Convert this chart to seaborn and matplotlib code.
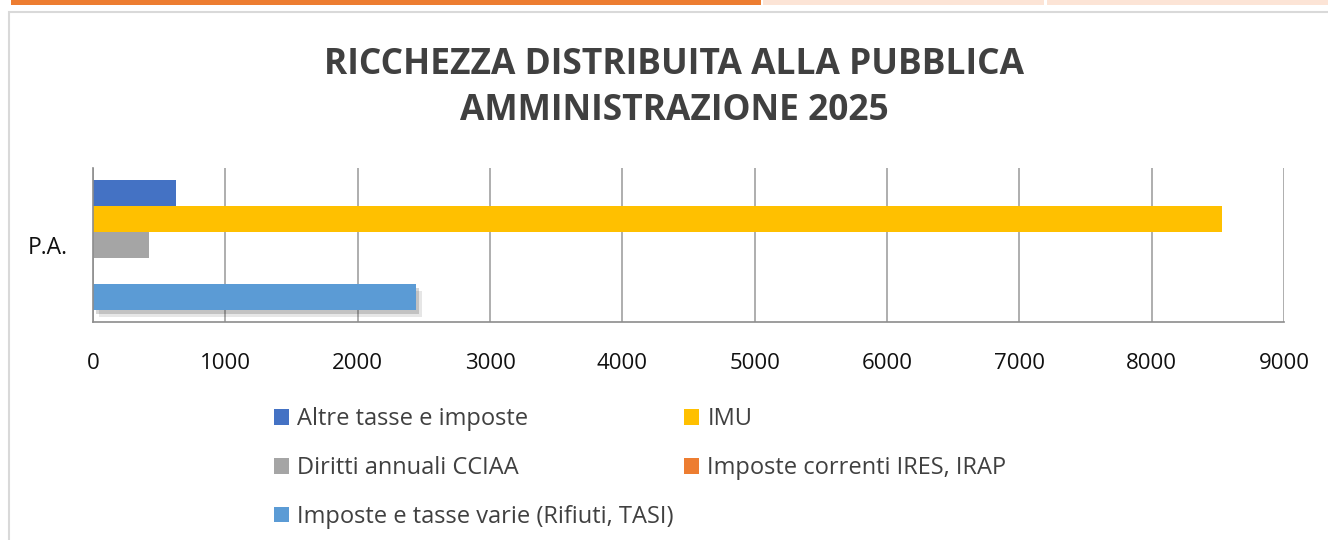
import pandas as pd
import numpy as np
import matplotlib
matplotlib.use("Agg")
import matplotlib.pyplot as plt
import matplotlib.patheffects as pe
from matplotlib.patches import Rectangle
import seaborn as sns

# Dati
categorie = ["P.A."]
serie = [
    "Altre tasse e imposte",
    "IMU",
    "Diritti annuali CCIAA",
    "Imposte correnti IRES, IRAP",
    "Imposte e tasse varie (Rifiuti, TASI)",
]
valori = [627, 8530, 423, 0, 2441]
colori = ["#4472C4", "#FFC000", "#A5A5A5", "#ED7D31", "#5B9BD5"]
tick_x = [0, 1000, 2000, 3000, 4000, 5000, 6000, 7000, 8000, 9000]

df = pd.DataFrame({"cat": categorie * len(serie), "serie": serie, "valore": valori})

sns.set_style("white")
plt.rcParams["font.family"] = ["Open Sans", "DejaVu Sans"]

fig = plt.figure(figsize=(13.28, 5.4), dpi=100)
ax = fig.add_axes([93 / 1328, 1 - 322 / 540, (1284 - 93) / 1328, (322 - 168) / 540])

sns.barplot(
    data=df, x="valore", y="cat", hue="serie", hue_order=serie,
    palette=colori, orient="h", width=0.845, saturation=1, ax=ax, legend=True,
    linewidth=0,
)

# ombra sulla barra "Imposte e tasse varie"
for p in ax.patches:
    if np.isclose(p.get_width(), valori[4]):
        p.set_path_effects([
            pe.SimplePatchShadow(offset=(4, -5), alpha=0.12, shadow_rgbFace="#333333"),
            pe.SimplePatchShadow(offset=(2.5, -3), alpha=0.2, shadow_rgbFace="#333333"),
            pe.Normal(),
        ])

ax.set_xlim(0, 9000)
ax.set_ylim(0.5, -0.5)
ax.set_xticks(tick_x)
ax.set_xticklabels([str(t) for t in tick_x], fontsize=16, color="#111111")
ax.set_yticks([-0.5, 0.5], minor=True)
ax.set_yticks([0])
ax.set_yticklabels(categorie, fontsize=16.5, color="#111111")
ax.tick_params(axis="y", which="major", length=0, pad=18)
ax.tick_params(axis="y", which="minor", length=8, color="#8c8c8c", width=1.2)
ax.tick_params(axis="x", length=8, color="#8c8c8c", width=1.2, pad=14)
ax.grid(axis="x", color="#999999", linewidth=1.1)
ax.set_axisbelow(True)
ax.set_xlabel("")
ax.set_ylabel("")
for s in ["top", "right"]:
    ax.spines[s].set_visible(False)
for s in ["left", "bottom"]:
    ax.spines[s].set_color("#8c8c8c")
    ax.spines[s].set_linewidth(1.2)

# legenda a due colonne (ordine per righe)
handles, labels = ax.get_legend_handles_labels()
ordine = [0, 2, 4, 1, 3]
ax.legend(
    [handles[i] for i in ordine], [labels[i] for i in ordine],
    ncol=2, frameon=False, fontsize=17, labelcolor="#404040",
    loc="upper left", bbox_to_anchor=(265 / 1328, 1 - 398 / 540),
    bbox_transform=fig.transFigure, handlelength=0.62, handleheight=0.62,
    handletextpad=0.35, columnspacing=0.45, labelspacing=1.05, borderaxespad=0,
)

fig.suptitle(
    "RICCHEZZA DISTRIBUITA ALLA PUBBLICA\nAMMINISTRAZIONE 2025",
    x=674 / 1328, y=1 - 47 / 540, fontsize=25.5, fontweight="bold",
    color="#404040", linespacing=1.36, va="top",
)

# cornice e striscia superiore
fig.patches.append(Rectangle((9 / 1328, -0.1), 1.2, 1.078, transform=fig.transFigure,
                             fill=False, edgecolor="#d9d9d9", linewidth=1.5))
fig.patches.append(Rectangle((11 / 1328, 1 - 5 / 540), 750 / 1328, 5 / 540,
                             transform=fig.transFigure, color="#ED7D31", linewidth=0))
fig.patches.append(Rectangle((763 / 1328, 1 - 5 / 540), 281 / 1328, 5 / 540,
                             transform=fig.transFigure, color="#FCE4D6", linewidth=0))
fig.patches.append(Rectangle((1047 / 1328, 1 - 5 / 540), 281 / 1328, 5 / 540,
                             transform=fig.transFigure, color="#FCE4D6", linewidth=0))

fig.savefig("out.png", dpi=100)
